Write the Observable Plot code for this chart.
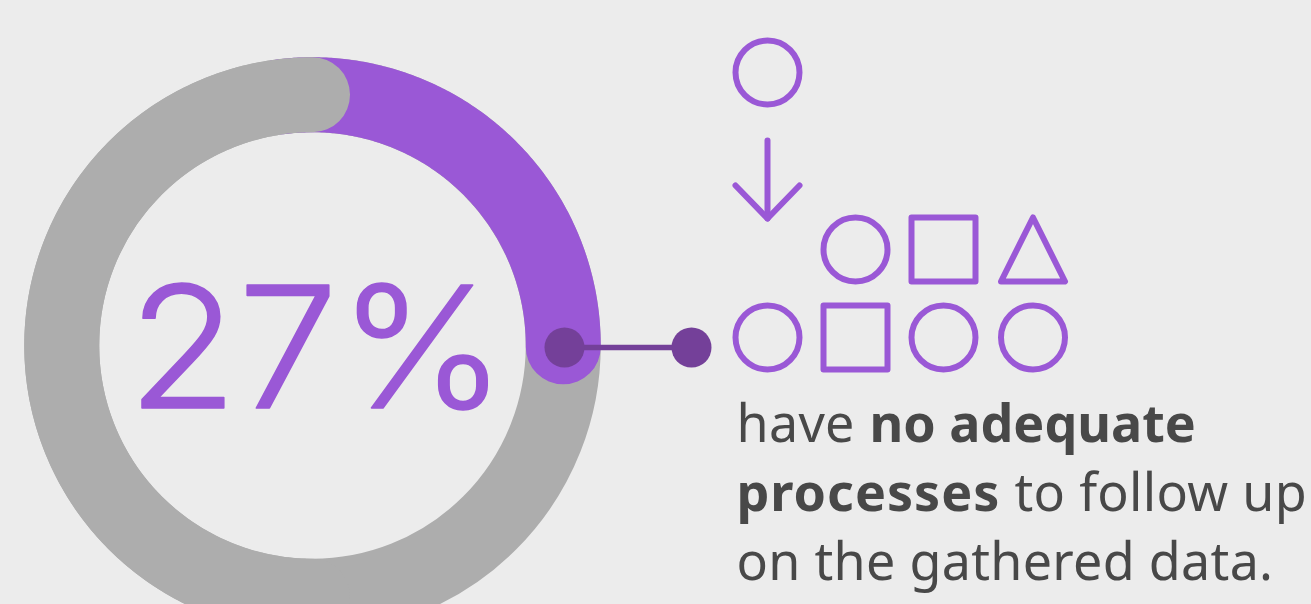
<!DOCTYPE html>
<html>
<head>
<meta charset="utf-8">
<script src="https://cdn.jsdelivr.net/npm/d3@7"></script>
<script src="https://cdn.jsdelivr.net/npm/@observablehq/plot@0.6"></script>
<style>
  html, body { margin: 0; padding: 0; background: #ececec; overflow: hidden; }
  svg { display: block; }
  .wide text { letter-spacing: 1px; }
  .loose text { letter-spacing: 0.3px; }
</style>
</head>
<body>
<div id="chart"></div>
<script>
// Survey share shown by the ring
const sharePercent = 27;

// Icon rows beneath the arrow: one single shape turning into many
const topRow = ["", "circle", "square", "triangle"];
const bottomRow = ["circle", "square", "circle", "circle"];

// Caption, as runs of regular and bold text per line
const captionLines = [
  [{text: "have", bold: false, spacing: "loose"}, {text: "no adequate", bold: true, spacing: ""}],
  [{text: "processes", bold: true, spacing: "wide"}, {text: "to follow up", bold: false, spacing: "loose"}],
  [{text: "on the gathered data.", bold: false, spacing: "loose"}]
];

// Layout, in pixels
const W = 1311, H = 604;
const cx = 312, cy = 345, ringR = 250.75, ringW = 75;
const purple = "#9a58d6", dark = "#744099", grey = "#adadad", ink = "#484848";
const columns = [767, 855, 943, 1032.5];
const rowY = {single: 72, top: 249, bottom: 337};
const iconHalf = 32, iconStroke = 6;
const captionX = [[736, 869], [736, 1014], [736]];
const captionY = [441, 510, 579];
const captionSize = 52;
const fontFamily = "'Noto Sans', sans-serif";
const figureWidth = 379;

// Polyline along the ring, clockwise from twelve o'clock
const arc = (startDeg, sweepDeg) =>
  d3.range(0, Math.abs(sweepDeg) + 0.5, 0.5).map((d) => {
    const a = ((startDeg + d) * Math.PI) / 180;
    return {x: cx + ringR * Math.sin(a), y: cy - ringR * Math.cos(a)};
  });

const sweep = (sharePercent / 100) * 360;
const shareEnd = 90;

// Custom outlined shapes for the icon grid
const squareSymbol = {
  draw(ctx, size) {
    const h = Math.sqrt(size / Math.PI);
    ctx.moveTo(-h, -h); ctx.lineTo(h, -h); ctx.lineTo(h, h); ctx.lineTo(-h, h); ctx.closePath();
  }
};
const triangleSymbol = {
  draw(ctx, size) {
    const h = Math.sqrt(size / Math.PI);
    ctx.moveTo(0, -h); ctx.lineTo(h, h); ctx.lineTo(-h, h); ctx.closePath();
  }
};

const icons = [
  {shape: "circle", x: columns[0], y: rowY.single},
  ...topRow.map((shape, i) => ({shape, x: columns[i], y: rowY.top})),
  ...bottomRow.map((shape, i) => ({shape, x: columns[i], y: rowY.bottom}))
];
const iconMark = (shape, symbol) =>
  Plot.dot(icons.filter((d) => d.shape === shape), {
    x: "x", y: "y", r: iconHalf, symbol,
    fill: "none", stroke: purple, strokeWidth: iconStroke, strokeLinejoin: "round"
  });

// Arrow from the single icon down to the group
const arrowStrokes = [
  {id: "shaft", x: columns[0], y: 140},
  {id: "shaft", x: columns[0], y: 218},
  {id: "head", x: columns[0] - 32, y: 185},
  {id: "head", x: columns[0], y: 218},
  {id: "head", x: columns[0] + 32, y: 185}
];

// One text mark per caption run
const captionMarks = captionLines.flatMap((runs, i) =>
  runs.map((run, j) =>
    Plot.text([run.text], {
      x: () => captionX[i][j],
      y: () => captionY[i],
      text: (d) => d,
      textAnchor: "start",
      lineAnchor: "bottom",
      fontSize: captionSize,
      fontWeight: run.bold ? 700 : 400,
      fill: ink,
      className: run.spacing || undefined
    })
  )
);

// Sets the big figure to a fixed overall width
function fitFigure(index, scales, values, dimensions, context, next) {
  const g = next(index, scales, values, dimensions, context);
  const node = g.querySelector("text");
  node.setAttribute("textLength", figureWidth);
  node.setAttribute("lengthAdjust", "spacingAndGlyphs");
  return g;
}

const plot = Plot.plot({
  width: W,
  height: H,
  margin: 0,
  style: {background: "#ececec", fontFamily},
  x: {domain: [0, W], range: [0, W], axis: null},
  y: {domain: [0, H], range: [0, H], axis: null},
  marks: [
    // full grey ring
    Plot.dot([0], {x: () => cx, y: () => cy, r: ringR, fill: "none", stroke: grey, strokeWidth: ringW}),
    // the share, sweeping clockwise; its tail tucks beneath the grey end cap
    Plot.line(arc(shareEnd - sweep, sweep), {
      x: "x", y: "y", stroke: purple, strokeWidth: ringW, strokeLinecap: "round"
    }),
    // grey end cap overlapping the start of the share
    Plot.line(arc(180, 180), {
      x: "x", y: "y", stroke: grey, strokeWidth: ringW, strokeLinecap: "round"
    }),
    // connector between ring and icons
    Plot.link([0], {
      x1: () => 564, x2: () => 691, y1: () => 347, y2: () => 347,
      stroke: dark, strokeWidth: 5.5
    }),
    Plot.dot([564, 691], {x: (d) => d, y: () => 347, r: 20, fill: dark}),
    // big figure
    Plot.text([`${sharePercent}%`], {
      x: () => 127, y: () => 407, text: (d) => d,
      textAnchor: "start", lineAnchor: "bottom",
      fontSize: 169, fontWeight: 300, fontFamily: "Inter, sans-serif",
      fill: purple, stroke: purple, strokeWidth: 1.5,
      render: fitFigure
    }),
    // icons
    iconMark("circle", "circle"),
    iconMark("square", squareSymbol),
    iconMark("triangle", triangleSymbol),
    Plot.line(arrowStrokes, {
      x: "x", y: "y", z: "id", stroke: purple, strokeWidth: iconStroke,
      strokeLinecap: "round", strokeLinejoin: "round"
    }),
    ...captionMarks
  ]
});
document.getElementById("chart").append(plot);
</script>
</body>
</html>
